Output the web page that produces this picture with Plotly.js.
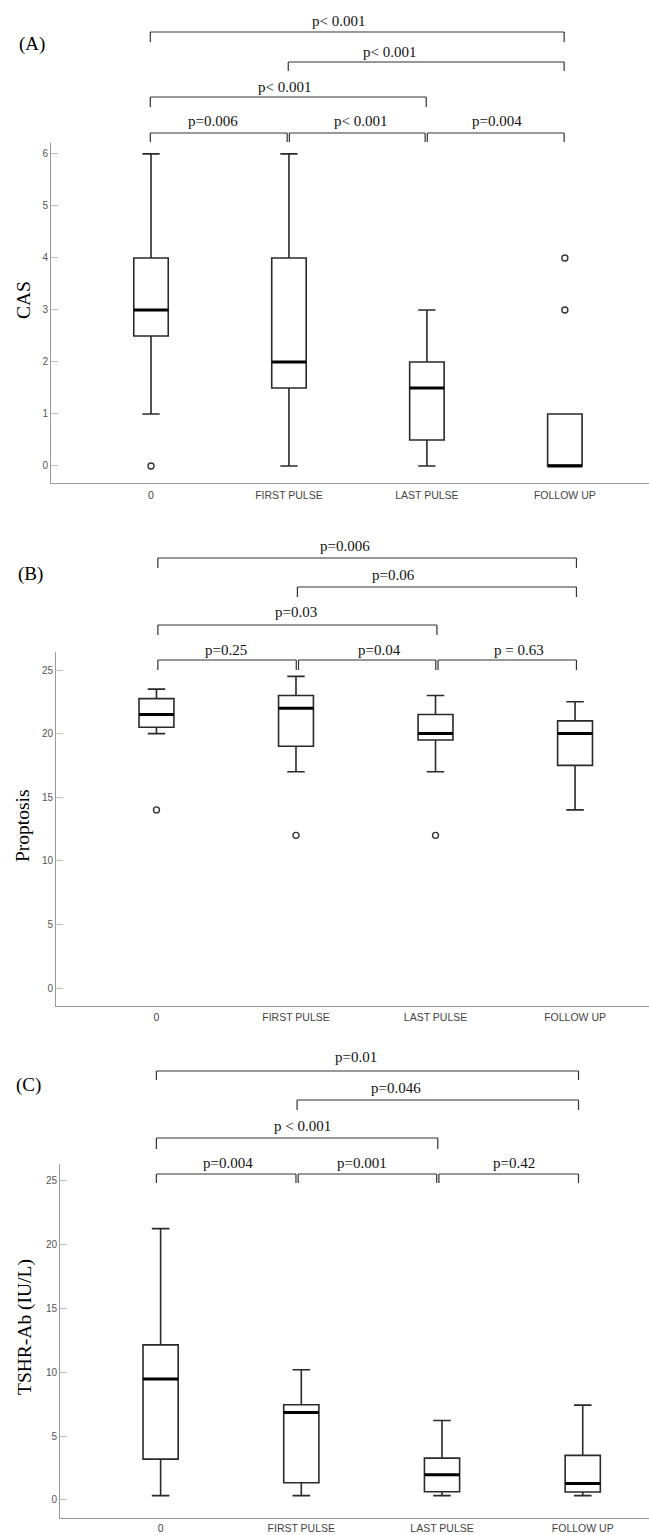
<!DOCTYPE html>
<html>
<head>
<meta charset="utf-8">
<script src="https://cdn.plot.ly/plotly-3.0.1.min.js"></script>
<style>html,body{margin:0;padding:0;background:#fff;}#chart{width:649px;height:1535px;}</style>
</head>
<body>
<div id="chart"></div>
<script>
// ---- data ----
const categories = ['0', 'FIRST PULSE', 'LAST PULSE', 'FOLLOW UP'];
const catIndex = [0, 1, 2, 3];

// (A) CAS
const casLow    = [1, 0, 0, 0];
const casQ1     = [2.5, 1.5, 0.5, 0];
const casMedian = [3, 2, 1.5, 0];
const casQ3     = [4, 4, 2, 1];
const casHigh   = [6, 6, 3, 1];
const casOutX   = [0, 3, 3];
const casOutY   = [0, 3, 4];
const casP      = ['p< 0.001', 'p< 0.001', 'p< 0.001', 'p=0.006', 'p< 0.001', 'p=0.004'];

// (B) Proptosis
const proLow    = [20, 17, 17, 14];
const proQ1     = [20.5, 19, 19.5, 17.5];
const proMedian = [21.5, 22, 20, 20];
const proQ3     = [22.75, 23, 21.5, 21];
const proHigh   = [23.5, 24.5, 23, 22.5];
const proOutX   = [0, 1, 2];
const proOutY   = [14, 12, 12];
const proP      = ['p=0.006', 'p=0.06', 'p=0.03', 'p=0.25', 'p=0.04', 'p = 0.63'];

// (C) TSHR-Ab
const tsLow    = [0.34, 0.34, 0.34, 0.34];
const tsQ1     = [3.2, 1.35, 0.65, 0.63];
const tsMedian = [9.47, 6.86, 1.98, 1.3];
const tsQ3     = [12.15, 7.46, 3.28, 3.49];
const tsHigh   = [21.25, 10.2, 6.23, 7.43];
const tsP      = ['p=0.01', 'p=0.046', 'p < 0.001', 'p=0.004', 'p=0.001', 'p=0.42'];

// comparison pairs (category indices), same order as p-value labels
const pairs = [[0, 3], [1, 3], [0, 2], [0, 1], [1, 2], [2, 3]];

// ---- layout helpers ----
const W = 649, H = 1535;
const py = p => 1 - p / H;
const BOXW = 0.25;
const serif = 'Liberation Serif, Times New Roman, serif';
const sans = 'Liberation Sans, Arial, sans-serif';

const panels = [
  { sfx: '', left: 51, top: 143, bottom: 483, xr: [-0.725, 3.61], yr: [-0.327, 6.21], dtick: 1, tl: 2.5,
    stats: [casLow, casQ1, casMedian, casQ3, casHigh], outX: casOutX, outY: casOutY, pv: casP,
    title: 'CAS', tX: 24, tY: 300, lab: '(A)', lX: 32, lY: 44,
    br: [[32, 42, 21], [62, 71, 52], [97, 107, 87], [133, 142, 121], [133, 142, 121], [133, 142, 121]],
    tx: [1.36, 1.73, 0.97, 0.45, 1.52, 2.51], shift: -0.005 },
  { sfx: '2', left: 56, top: 652, bottom: 1006, xr: [-0.72, 3.53], yr: [-1.415, 26.415], dtick: 5, tl: 1,
    stats: [proLow, proQ1, proMedian, proQ3, proHigh], outX: proOutX, outY: proOutY, pv: proP,
    title: 'Proptosis', tX: 23, tY: 826, lab: '(B)', lX: 30, lY: 574,
    br: [[558, 568, 546], [587, 597, 575], [625, 635, 612], [660, 670, 650], [660, 670, 650], [660, 670, 650]],
    tx: [1.35, 1.70, 1.00, 0.50, 1.595, 2.595], shift: 0.01 },
  { sfx: '3', left: 60, top: 1164, bottom: 1518, xr: [-0.715, 3.471], yr: [-1.41, 26.31], dtick: 5, tl: 0.5,
    stats: [tsLow, tsQ1, tsMedian, tsQ3, tsHigh], outX: [], outY: [], pv: tsP,
    title: 'TSHR-Ab (IU/L)', tX: 25, tY: 1327, lab: '(C)', lX: 28, lY: 1085,
    br: [[1071, 1080, 1057], [1100, 1110, 1088], [1138, 1149, 1126], [1174, 1183, 1163], [1174, 1183, 1163], [1174, 1183, 1163]],
    tx: [1.39, 1.67, 1.005, 0.48, 1.43, 2.51], shift: -0.03 }
];

const data = [];
const shapes = [];
const annotations = [];
const layout = {
  width: W, height: H, autosize: false,
  margin: { l: 0, r: 0, t: 0, b: 0 },
  paper_bgcolor: '#fff', plot_bgcolor: '#fff',
  showlegend: false,
  shapes: shapes, annotations: annotations
};

panels.forEach(p => {
  const xa = 'x' + p.sfx, ya = 'y' + p.sfx;
  const [lo, q1, med, q3, hi] = p.stats;
  data.push({
    type: 'box', xaxis: xa, yaxis: ya,
    x: catIndex, lowerfence: lo, q1: q1, median: med, q3: q3, upperfence: hi,
    width: BOXW, whiskerwidth: 0.5, boxpoints: false,
    fillcolor: '#ffffff', line: { color: '#2a2a2a', width: 1.6 },
    hoverinfo: 'skip'
  });
  if (p.outX.length) {
    data.push({
      type: 'scatter', mode: 'markers', xaxis: xa, yaxis: ya,
      x: p.outX, y: p.outY,
      marker: { symbol: 'circle-open', size: 6, color: '#333', line: { width: 1.4, color: '#333' } },
      hoverinfo: 'skip'
    });
  }
  // thick medians
  med.forEach((m, i) => {
    shapes.push({ type: 'line', xref: xa, yref: ya, x0: catIndex[i] - BOXW / 2, x1: catIndex[i] + BOXW / 2,
      y0: m, y1: m, line: { color: '#000', width: 3 } });
  });
  // axes
  const axKeyX = 'xaxis' + p.sfx, axKeyY = 'yaxis' + p.sfx;
  layout[axKeyX] = {
    domain: [p.left / W, 1], anchor: ya, range: p.xr, fixedrange: true,
    tickmode: 'array', tickvals: catIndex, ticktext: categories,
    showgrid: false, zeroline: false, showline: true, linecolor: '#9a9a9a', linewidth: 1,
    ticks: 'outside', ticklen: p.tl, tickcolor: 'rgba(0,0,0,0)',
    tickfont: { family: sans, size: 10.5, color: '#444' }
  };
  layout[axKeyY] = {
    domain: [py(p.bottom), py(p.top)], anchor: xa, range: p.yr, fixedrange: true,
    dtick: p.dtick, tick0: 0,
    showgrid: false, zeroline: false, showline: true, linecolor: '#9a9a9a', linewidth: 1,
    ticks: 'inside', ticklen: 7, tickcolor: '#bdbdbd', tickwidth: 1,
    tickfont: { family: sans, size: 10, color: '#555' }
  };
  // y title
  annotations.push({ xref: 'paper', yref: 'paper', x: p.tX / W, y: py(p.tY), text: p.title, textangle: -90,
    showarrow: false, xanchor: 'center', yanchor: 'middle', font: { family: serif, size: 19.5, color: '#000' } });
  // panel label
  annotations.push({ xref: 'paper', yref: 'paper', x: p.lX / W, y: py(p.lY), text: p.lab,
    showarrow: false, xanchor: 'center', yanchor: 'middle', font: { family: serif, size: 19, color: '#000' } });
  // brackets
  pairs.forEach((pr, k) => {
    let a = pr[0] + p.shift, b = pr[1] + p.shift;
    if (pr[1] - pr[0] === 1) {
      if (pr[0] > 0) a += 0.008;
      if (pr[1] < 3) b -= 0.008;
    }
    const [yl, yt, ytx] = p.br[k];
    const lc = { color: '#333', width: 1.2 };
    shapes.push({ type: 'line', xref: xa, yref: 'paper', x0: a, x1: b, y0: py(yl), y1: py(yl), line: lc });
    shapes.push({ type: 'line', xref: xa, yref: 'paper', x0: a, x1: a, y0: py(yl), y1: py(yt), line: lc });
    shapes.push({ type: 'line', xref: xa, yref: 'paper', x0: b, x1: b, y0: py(yl), y1: py(yt), line: lc });
    annotations.push({ xref: xa, yref: 'paper', x: p.tx[k], y: py(ytx), text: p.pv[k], showarrow: false,
      xanchor: 'center', yanchor: 'middle', font: { family: serif, size: 15, color: '#111' } });
  });
});

Plotly.newPlot('chart', data, layout, { staticPlot: true, displayModeBar: false });
</script>
</body>
</html>
